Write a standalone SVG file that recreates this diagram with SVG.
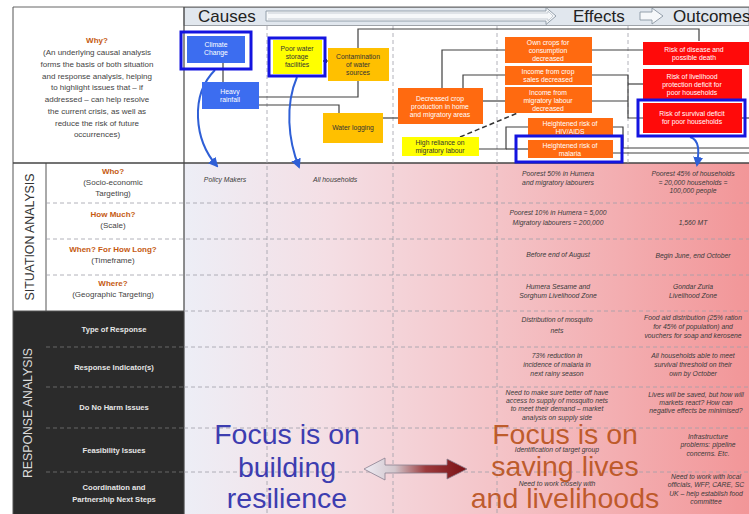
<svg xmlns="http://www.w3.org/2000/svg" width="749" height="514" viewBox="0 0 749 514">
<defs>
<linearGradient id="bg" x1="184" y1="0" x2="749" y2="0" gradientUnits="userSpaceOnUse">
<stop offset="0" stop-color="#edeef6"/>
<stop offset="0.25" stop-color="#f4dfe5"/>
<stop offset="0.55" stop-color="#f4c4c8"/>
<stop offset="1" stop-color="#f29698"/>
</linearGradient>
<linearGradient id="dbl" x1="364" y1="0" x2="467" y2="0" gradientUnits="userSpaceOnUse">
<stop offset="0" stop-color="#efecf4"/>
<stop offset="0.3" stop-color="#d2c6cc"/>
<stop offset="0.6" stop-color="#9c3a3c"/>
<stop offset="1" stop-color="#7a1014"/>
</linearGradient>
<marker id="bh" viewBox="0 0 10 10" refX="8" refY="5" markerWidth="5" markerHeight="5" orient="auto">
<path d="M0,0 L10,5 L0,10 Z" fill="#2f5fd6"/>
</marker>
<marker id="sh" viewBox="0 0 10 10" refX="9" refY="5" markerWidth="4" markerHeight="4" orient="auto">
<path d="M0,0 L10,5 L0,10 Z" fill="#404040"/>
</marker>
<style>
text{font-family:"Liberation Sans",Arial,sans-serif}
.why{font-size:8px;fill:#444;text-anchor:middle}
.q{font-size:8px;fill:#c55a11;font-weight:bold;text-anchor:middle}
.lab{font-size:8px;fill:#444;text-anchor:middle}
.rl{font-size:7.6px;fill:#e6e6e6;font-weight:bold;text-anchor:middle}
.cell{font-size:6.8px;fill:#3a3a3a;font-style:italic;text-anchor:middle}
.bt{font-size:6.8px;text-anchor:middle}
.w{fill:#ffffff}
.d{fill:#333333}
.blue{fill:#3c6df0}
.yel{fill:#ffff00}
.gold{fill:#ffc000}
.org{fill:#ff6a10}
.red{fill:#ff0a0a}
.frame{fill:none;stroke:#1414e0;stroke-width:3}
.con{fill:none;stroke:#404040;stroke-width:1.2}
.grid{stroke:#a0a0a8;stroke-width:0.8;stroke-dasharray:4 3;fill:none}
.gridd{stroke:#777;stroke-width:0.8;stroke-dasharray:4 3;fill:none}
.barr{fill:none;stroke:#2f5fd6;stroke-width:2}
.big{font-size:28.5px;text-anchor:middle}
</style>
</defs>

<!-- backgrounds -->
<rect x="0" y="0" width="749" height="514" fill="#ffffff"/>
<rect x="184" y="163" width="565" height="351" fill="url(#bg)"/>
<rect x="13" y="311" width="171" height="203" fill="#2b2b2b"/>

<!-- header band -->
<rect x="184" y="7.5" width="565" height="18" fill="#e1e7ee" stroke="#8a8f96" stroke-width="0.8"/>
<path d="M266,11 H546 V7.5 L556,16 L546,24.5 V21 H266 Z" fill="#f6f8fa" stroke="#8a96a3" stroke-width="0.9"/>
<path d="M268,13 H548 V11 L553,16 L548,21 V19 H268" fill="none" stroke="#b4bdc6" stroke-width="0.7"/>
<path d="M640,12 H652 V8 L663,16 L652,24 V20 H640 Z" fill="#f6f8fa" stroke="#8a96a3" stroke-width="0.9"/>
<text x="198" y="22" font-size="17" fill="#222">Causes</text>
<text x="573" y="22" font-size="17" fill="#222">Effects</text>
<text x="673" y="22" font-size="17" fill="#222">Outcomes</text>

<!-- grid lines -->
<g id="grid">
<line x1="13" y1="7" x2="749" y2="7" stroke="#666" stroke-width="1"/>
<line x1="13" y1="7" x2="13" y2="514" stroke="#555" stroke-width="1"/>
<line x1="184" y1="7" x2="184" y2="514" stroke="#444" stroke-width="1.2"/>
<line x1="46" y1="163" x2="46" y2="311" stroke="#555" stroke-width="1"/>
<line x1="13" y1="163" x2="749" y2="163" stroke="#444" stroke-width="1.3"/>
<line x1="13" y1="311" x2="184" y2="311" stroke="#555" stroke-width="1"/>
<path class="grid" d="M267,26 V514 M393,26 V514 M497,26 V514 M628,26 V163"/>
<path class="grid" d="M46,203 H749 M46,239 H749 M46,275 H749 M184,311 H749 M184,347 H749 M184,387 H749 M184,428 H749 M184,472 H749"/>
<path class="gridd" d="M46,347 H184 M46,387 H184 M46,428 H184 M46,472 H184"/>
</g>

<!-- left column text -->
<g id="why">
<text class="q" x="97" y="43">Why?</text>
<text class="why" x="97" y="55">(An underlying causal analysis</text>
<text class="why" x="97" y="67">forms the basis of both situation</text>
<text class="why" x="97" y="79">and response analysis, helping</text>
<text class="why" x="97" y="90">to highlight issues that – if</text>
<text class="why" x="97" y="102">addressed – can help resolve</text>
<text class="why" x="97" y="114">the current crisis, as well as</text>
<text class="why" x="97" y="126">reduce the risk of future</text>
<text class="why" x="97" y="137">occurrences)</text>
</g>
<g id="situation-labels">
<text x="34" y="237" font-size="12" fill="#333" text-anchor="middle" transform="rotate(-90 34 237)" textLength="127" lengthAdjust="spacingAndGlyphs">SITUATION ANALYSIS</text>
<text class="q" x="113" y="174">Who?</text>
<text class="lab" x="113" y="185">(Socio-economic</text>
<text class="lab" x="113" y="196">Targeting)</text>
<text class="q" x="113" y="217">How Much?</text>
<text class="lab" x="113" y="228">(Scale)</text>
<text class="q" x="113" y="252">When? For How Long?</text>
<text class="lab" x="113" y="263">(Timeframe)</text>
<text class="q" x="113" y="286">Where?</text>
<text class="lab" x="113" y="297">(Geographic Targeting)</text>
</g>
<g id="response-labels">
<text x="32" y="413" font-size="12" fill="#dcdcdc" text-anchor="middle" transform="rotate(-90 32 413)" textLength="130" lengthAdjust="spacingAndGlyphs">RESPONSE ANALYSIS</text>
<text class="rl" x="114" y="332">Type of Response</text>
<text class="rl" x="114" y="370">Response Indicator(s)</text>
<text class="rl" x="114" y="410">Do No Harm Issues</text>
<text class="rl" x="114" y="453">Feasibility Issues</text>
<text class="rl" x="114" y="490">Coordination and</text>
<text class="rl" x="114" y="502">Partnership Next Steps</text>
</g>

<!-- connectors -->
<g id="connectors">
<path class="con" d="M223,63 V82"/>
<path class="con" d="M259,97 H358 V29 H699 V41"/>
<path class="con" d="M259,105 H339 V113"/>
<path class="con" d="M328,61 H323" marker-end="url(#sh)"/>
<path class="con" d="M383,118 H398"/>
<path class="con" d="M442,88 V50 H505"/>
<path class="con" d="M463,88 V75 H505"/>
<path class="con" d="M483,101 H505"/>
<path class="con" d="M592,50 H643"/>
<path class="con" d="M592,75 H628 V118 H643"/>
<path class="con" d="M592,101 H628"/>
<path class="con" d="M628,84 H643"/>
<path class="con" d="M479,149 H506 V127 H528"/>
<path class="con" d="M506,149 H529"/>
<path class="con" d="M613,127 H623 V148 H749"/>
<path class="con" d="M613,153 H749"/>
<path class="con" d="M742,118 H749"/>
<path d="M460,137 L520,112" fill="none" stroke="#333" stroke-width="1.5" stroke-dasharray="5 3"/>
<path class="barr" d="M215,70 C190,95 194,140 217,166" marker-end="url(#bh)"/>
<path class="barr" d="M297,77 C285,105 288,140 299,167" marker-end="url(#bh)"/>
<path class="barr" d="M690,137 C700,140 699,152 697,165" marker-end="url(#bh)"/>
</g>

<!-- nodes -->
<g id="climate-change">
<rect class="blue" x="187" y="36" width="58" height="27"/>
<rect class="frame" x="181" y="32" width="70" height="37"/>
<text class="bt w" x="216" y="47">Climate</text>
<text class="bt w" x="216" y="55">Change</text>
</g>
<g id="heavy-rainfall">
<rect class="blue" x="202" y="82" width="57" height="27"/>
<text class="bt w" x="230" y="94">Heavy</text>
<text class="bt w" x="230" y="102">rainfall</text>
</g>
<g id="poor-water-storage">
<rect class="yel" x="273" y="40" width="49" height="34"/>
<rect class="frame" x="269" y="38" width="56" height="38"/>
<text class="bt d" x="297" y="51">Poor water</text>
<text class="bt d" x="297" y="59">storage</text>
<text class="bt d" x="297" y="67">facilities</text>
</g>
<g id="contamination">
<rect class="gold" x="328" y="48" width="61" height="33"/>
<text class="bt d" x="358" y="59">Contamination</text>
<text class="bt d" x="358" y="67">of water</text>
<text class="bt d" x="358" y="75">sources</text>
</g>
<g id="water-logging">
<rect class="gold" x="323" y="113" width="60" height="30"/>
<text class="bt d" x="353" y="130">Water logging</text>
</g>
<g id="decreased-crop">
<rect class="org" x="398" y="88" width="85" height="36"/>
<text class="bt w" x="440" y="101">Decreased crop</text>
<text class="bt w" x="440" y="109">production in home</text>
<text class="bt w" x="440" y="117">and migratory areas</text>
</g>
<g id="high-reliance">
<rect class="yel" x="402" y="137" width="77" height="19"/>
<text class="bt d" x="440" y="145">High reliance on</text>
<text class="bt d" x="440" y="153">migratory labour</text>
</g>
<g id="own-crops">
<rect class="org" x="505" y="37" width="87" height="26"/>
<text class="bt w" x="548" y="45">Own crops for</text>
<text class="bt w" x="548" y="53">consumption</text>
<text class="bt w" x="548" y="61">decreased</text>
</g>
<g id="income-crop-sales">
<rect class="org" x="505" y="66" width="87" height="19"/>
<text class="bt w" x="548" y="74">Income from crop</text>
<text class="bt w" x="548" y="82">sales decreased</text>
</g>
<g id="income-migratory">
<rect class="org" x="505" y="87" width="87" height="26"/>
<text class="bt w" x="548" y="95">Income from</text>
<text class="bt w" x="548" y="103">migratory labour</text>
<text class="bt w" x="548" y="111">decreased</text>
</g>
<g id="hiv-aids">
<rect class="org" x="528" y="118" width="85" height="19"/>
<text class="bt w" x="570" y="126">Heightened risk of</text>
<text class="bt w" x="570" y="134">HIV/AIDS</text>
</g>
<g id="malaria">
<rect class="org" x="528" y="140" width="85" height="18"/>
<rect class="frame" x="516" y="136" width="106" height="26"/>
<text class="bt w" x="570" y="148">Heightened risk of</text>
<text class="bt w" x="570" y="156">malaria</text>
</g>
<g id="risk-disease">
<rect class="red" x="643" y="42" width="106" height="23"/>
<text class="bt w" x="694" y="52">Risk of disease and</text>
<text class="bt w" x="694" y="60">possible death</text>
</g>
<g id="risk-livelihood">
<rect class="red" x="643" y="69" width="99" height="30"/>
<text class="bt w" x="692" y="79">Risk of livelihood</text>
<text class="bt w" x="692" y="87">protection deficit for</text>
<text class="bt w" x="692" y="95">poor households</text>
</g>
<g id="risk-survival">
<rect class="red" x="643" y="103" width="99" height="30"/>
<rect class="frame" x="638" y="100" width="107" height="36"/>
<text class="bt w" x="692" y="116">Risk of survival deficit</text>
<text class="bt w" x="692" y="124">for poor households</text>
</g>

<!-- table cells -->
<g id="cells">
<text class="cell" x="225" y="182">Policy Makers</text>
<text class="cell" x="335" y="182">All households</text>
<text class="cell" x="558" y="176">Poorest 50% in Humera</text>
<text class="cell" x="558" y="185">and migratory labourers</text>
<text class="cell" x="693" y="176">Poorest 45% of households</text>
<text class="cell" x="693" y="185">= 20,000 households =</text>
<text class="cell" x="693" y="193">100,000 people</text>
<text class="cell" x="558" y="215">Poorest 10% in Humera = 5,000</text>
<text class="cell" x="558" y="225">Migratory labourers = 200,000</text>
<text class="cell" x="693" y="225">1,560 MT</text>
<text class="cell" x="558" y="257">Before end of August</text>
<text class="cell" x="693" y="258">Begin June, end October</text>
<text class="cell" x="558" y="289">Humera Sesame and</text>
<text class="cell" x="558" y="298">Sorghum Livelihood Zone</text>
<text class="cell" x="693" y="289">Gondar Zuria</text>
<text class="cell" x="693" y="298">Livelihood Zone</text>
<text class="cell" x="557" y="322">Distribution of mosquito</text>
<text class="cell" x="557" y="333">nets</text>
<text class="cell" x="693" y="320">Food aid distribution (25% ration</text>
<text class="cell" x="693" y="329">for 45% of population) and</text>
<text class="cell" x="693" y="338">vouchers for soap and kerosene</text>
<text class="cell" x="557" y="358">73% reduction in</text>
<text class="cell" x="557" y="367">incidence of malaria in</text>
<text class="cell" x="557" y="376">next rainy season</text>
<text class="cell" x="693" y="358">All households able to meet</text>
<text class="cell" x="693" y="367">survival threshold on their</text>
<text class="cell" x="693" y="376">own by October</text>
<text class="cell" x="557" y="395">Need to make sure better off have</text>
<text class="cell" x="557" y="403">access to supply of mosquito nets</text>
<text class="cell" x="557" y="411">to meet their demand – market</text>
<text class="cell" x="557" y="420">analysis on supply side</text>
<text class="cell" x="696" y="397">Lives will be saved, but how will</text>
<text class="cell" x="696" y="405">markets react? How can</text>
<text class="cell" x="696" y="413">negative effects be minimised?</text>
<text class="cell" x="708" y="439">Infrastructure</text>
<text class="cell" x="708" y="447">problems: pipeline</text>
<text class="cell" x="708" y="456">concerns. Etc.</text>
<text class="cell" x="557" y="452">Identification of target group</text>
<text class="cell" x="557" y="486">Need to work closely with</text>
<text class="cell" x="706" y="479">Need to work with local</text>
<text class="cell" x="706" y="487">officials, WFP, CARE, SC</text>
<text class="cell" x="706" y="496">UK – help establish food</text>
<text class="cell" x="706" y="504">committee</text>
</g>

<!-- focus texts -->
<g id="focus-resilience">
<text class="big" x="287" y="444" fill="#3d3db0">Focus is on</text>
<text class="big" x="287" y="477" fill="#3d3db0">building</text>
<text class="big" x="287" y="508" fill="#3d3db0">resilience</text>
</g>
<g id="focus-lives">
<text class="big" x="565" y="444" fill="#b9521c" fill-opacity="0.92">Focus is on</text>
<text class="big" x="565" y="476" fill="#b9521c" fill-opacity="0.92">saving lives</text>
<text class="big" x="565" y="508" fill="#b9521c" fill-opacity="0.92">and livelihoods</text>
</g>
<g id="double-arrow">
<path d="M364,469 L385,458 L385,465 L447,465 L447,459 L467,469 L447,479 L447,473 L385,473 L385,480 Z" fill="url(#dbl)" stroke="#8a8090" stroke-width="0.8"/>
</g>
</svg>
